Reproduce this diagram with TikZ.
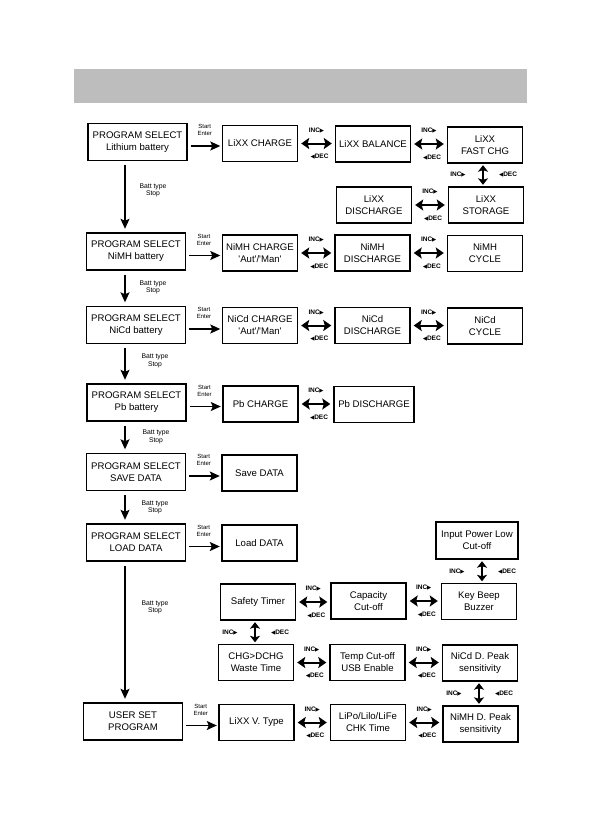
\documentclass[tikz,border=0pt]{standalone}
\usepackage{fontspec}
\setmainfont{Liberation Sans}
\newfontfamily\symf{DejaVu Sans}
\usetikzlibrary{arrows.meta}
\definecolor{bargray}{HTML}{BDBDBD}
\newcommand\incT{INC{\symf\fontsize{5.5}{6}\selectfont ▶}}
\newcommand\decT{{\symf\fontsize{5.5}{6}\selectfont ◀}DEC}
\tikzset{
  box/.style={draw, line width=1.4pt, minimum width=75pt, minimum height=36pt,
    inner sep=1pt, align=center, font=\fontsize{9.6}{12}\selectfont},
  pbox/.style={box, minimum width=99pt, minimum height=37pt},
  sarrow/.style={line width=1.4pt, -{Stealth[length=10pt,width=9pt,inset=2pt]}},
  darrow/.style={line width=2pt,
    {Stealth[length=8pt,width=11pt,inset=1.5pt]}-{Stealth[length=8pt,width=11pt,inset=1.5pt]},
    shorten <=3pt, shorten >=3pt},
  vdarrow/.style={line width=2pt,
    {Stealth[length=6.5pt,width=10pt,inset=1.5pt]}-{Stealth[length=6.5pt,width=10pt,inset=1.5pt]},
    shorten <=1.5pt, shorten >=1.5pt},
  small/.style={font=\fontsize{6}{7}\selectfont, align=center, inner sep=0pt},
  bsmall/.style={font=\fontsize{6.8}{7.5}\selectfont, align=center, inner sep=0pt},
  inc/.style={font=\bfseries\fontsize{6.5}{7}\selectfont, inner sep=0pt},
}
\newcommand\hdbl[2]{\draw[darrow] (#1.east) -- node[inc, yshift=13pt]{\incT} node[inc, yshift=-13.5pt, xshift=3pt]{\decT} (#1.east -| #2.west);}
\newcommand\vdbl[3]{\coordinate (vx) at (#3,0);
  \draw[vdarrow] (#1.south -| vx) -- node[inc, xshift=-25pt]{\incT} node[inc, xshift=25pt]{\decT} (#2.north -| vx);}
\newcommand\senter[2]{\draw[sarrow, shorten <=3pt, shorten >=1.5pt] ([yshift=-4pt]#1.east) -- node[small, yshift=16pt]{Start\\Enter} ([yshift=-4pt]#1.east -| #2.west);}
\newcommand\bstop[4]{\draw[sarrow, shorten <=4pt, shorten >=3.5pt] (#1.south -| ax) -- (#2.north -| ax);
  \node[bsmall] at (#3,#4) {Batt type\\Stop};}
\begin{document}
\begin{tikzpicture}[x=1pt,y=-1pt]
\useasboundingbox (0,0) rectangle (601,828);
\fill[white] (0,0) rectangle (601,828);
\fill[bargray] (74,69) rectangle (527,103);
\coordinate (ax) at (125,0);
% column 1
\node[pbox] (L1) at (137.5,142) {PROGRAM SELECT\\Lithium battery};
\node[pbox] (L2) at (136,251.5) {PROGRAM SELECT\\NiMH battery};
\node[pbox] (L3) at (136,325) {PROGRAM SELECT\\NiCd battery};
\node[pbox] (L4) at (136.5,402.5) {PROGRAM SELECT\\Pb battery};
\node[pbox] (L5) at (136,472) {PROGRAM SELECT\\SAVE DATA};
\node[pbox] (L6) at (136,542.5) {PROGRAM SELECT\\LOAD DATA};
\node[pbox] (U) at (133,721.5) {USER SET\\PROGRAM};
% lithium
\node[box] (C1) at (260,143.5) {LiXX CHARGE};
\node[box] (B) at (373,144) {LiXX BALANCE};
\node[box] (F) at (485,145) {LiXX\\FAST CHG};
\node[box] (D) at (374,205) {LiXX\\DISCHARGE};
\node[box] (S) at (486,205) {LiXX\\STORAGE};
% NiMH
\node[box] (N1) at (260,253) {NiMH CHARGE\\\textquotesingle Aut\textquotesingle/\textquotesingle Man\textquotesingle};
\node[box] (N2) at (372.5,253) {NiMH\\DISCHARGE};
\node[box] (N3) at (485,253.5) {NiMH\\CYCLE};
% NiCd
\node[box] (Q1) at (260,325.5) {NiCd CHARGE\\\textquotesingle Aut\textquotesingle/\textquotesingle Man\textquotesingle};
\node[box] (Q2) at (372.5,325.5) {NiCd\\DISCHARGE};
\node[box] (Q3) at (485,326) {NiCd\\CYCLE};
% Pb
\node[box] (P1) at (260.5,404) {Pb CHARGE};
\node[box, minimum width=80pt] (P2) at (374,404.5) {Pb DISCHARGE};
% data
\node[box] (SD) at (259.5,473) {Save DATA};
\node[box] (LD) at (259.5,543) {Load DATA};
% user set
\node[box, minimum width=82pt, minimum height=37pt] (IP) at (477,540.5) {Input Power Low\\Cut-off};
\node[box] (ST) at (258,602) {Safety Timer};
\node[box] (CA) at (368.5,601) {Capacity\\Cut-off};
\node[box] (KB) at (479,601.5) {Key Beep\\Buzzer};
\node[box] (CW) at (256,662.5) {CHG>DCHG\\Waste Time};
\node[box] (TC) at (367.5,662.5) {Temp Cut-off\\USB Enable};
\node[box] (ND) at (480,663) {NiCd D. Peak\\sensitivity};
\node[box] (LV) at (256.5,722.5) {LiXX V. Type};
\node[box] (LP) at (368,722.5) {LiPo/Lilo/LiFe\\CHK Time};
\node[box] (MD) at (480.5,724) {NiMH D. Peak\\sensitivity};
% start/enter arrows
\senter{L1}{C1}
\senter{L2}{N1}
\senter{L3}{Q1}
\senter{L4}{P1}
\senter{L5}{SD}
\senter{L6}{LD}
\senter{U}{LV}
% batt type arrows
\bstop{L1}{L2}{153}{190.5}
\bstop{L2}{L3}{153}{287.5}
\bstop{L3}{L4}{155}{361}
\bstop{L4}{L5}{156}{437}
\bstop{L5}{L6}{155}{507.5}
\bstop{L6}{U}{155}{607.5}
% inc/dec arrows
\hdbl{C1}{B}
\hdbl{B}{F}
\hdbl{D}{S}
\hdbl{N1}{N2}
\hdbl{N2}{N3}
\hdbl{Q1}{Q2}
\hdbl{Q2}{Q3}
\hdbl{P1}{P2}
\hdbl{ST}{CA}
\hdbl{CA}{KB}
\hdbl{CW}{TC}
\hdbl{TC}{ND}
\hdbl{LV}{LP}
\hdbl{LP}{MD}
\vdbl{F}{S}{483}
\vdbl{IP}{KB}{482}
\vdbl{ST}{CW}{255}
\vdbl{ND}{MD}{479}
\end{tikzpicture}
\end{document}
